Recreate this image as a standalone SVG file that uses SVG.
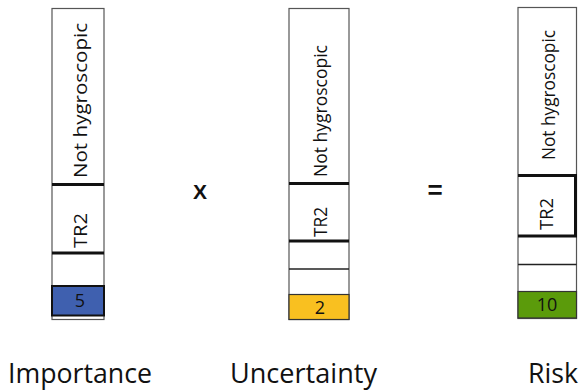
<svg xmlns="http://www.w3.org/2000/svg" width="581" height="392" viewBox="0 0 581 392">
<style>
.frame{fill:#fff;stroke:#555;stroke-width:1.2}
.thick{stroke:#111;stroke-width:3}
.thin{stroke:#222;stroke-width:1.5}
.vt{font-family:"Open Sans","Noto Sans",sans-serif;font-size:19px;fill:#111}
.num{font-family:"Open Sans","Noto Sans",sans-serif;font-size:18px;fill:#111;text-anchor:middle}
.lab{font-family:"Open Sans","Noto Sans",sans-serif;font-size:27px;fill:#111}
.op{font-family:"Liberation Sans",Arial,sans-serif;font-weight:bold;fill:#111;text-anchor:middle}
</style>
<g id="importance">
<rect class="frame" x="52" y="8.5" width="52" height="311"/>
<line class="thick" x1="52" y1="184.5" x2="104" y2="184.5"/>
<line class="thick" x1="52" y1="253" x2="104" y2="253"/>
<rect x="52" y="286" width="52" height="29.5" fill="#3F60AF" stroke="#111" stroke-width="2"/>
<text class="vt" transform="translate(87,178) rotate(-90)" textLength="155" lengthAdjust="spacingAndGlyphs">Not hygroscopic</text>
<text class="vt" transform="translate(87,248) rotate(-90)" textLength="35" lengthAdjust="spacingAndGlyphs">TR2</text>
<text class="num" x="80" y="307">5</text>
<text class="lab" x="8" y="383" textLength="144" lengthAdjust="spacingAndGlyphs">Importance</text>
</g>
<g id="uncertainty">
<rect class="frame" x="289" y="8.5" width="60" height="311"/>
<line class="thick" x1="289" y1="183.5" x2="349" y2="183.5"/>
<line class="thick" x1="289" y1="241" x2="349" y2="241"/>
<line class="thin" x1="289" y1="269" x2="349" y2="269"/>
<rect x="289" y="294.5" width="60" height="25" fill="#F9C020" stroke="#333" stroke-width="1.2"/>
<text class="vt" transform="translate(327,177) rotate(-90)" textLength="132" lengthAdjust="spacingAndGlyphs">Not hygroscopic</text>
<text class="vt" transform="translate(327,237) rotate(-90)" textLength="30" lengthAdjust="spacingAndGlyphs">TR2</text>
<text class="num" x="320" y="314">2</text>
<text class="lab" x="230" y="383" textLength="147" lengthAdjust="spacingAndGlyphs">Uncertainty</text>
</g>
<g id="risk">
<rect class="frame" x="518" y="7.5" width="58.5" height="311"/>
<path d="M518 175.5 H575.5 V236 H518" fill="none" stroke="#111" stroke-width="3"/>
<line class="thin" x1="518" y1="264.5" x2="576.5" y2="264.5"/>
<rect x="518" y="291.5" width="58.5" height="26.5" fill="#5B9B0B" stroke="#333" stroke-width="1.2"/>
<text class="vt" transform="translate(555,160) rotate(-90)" textLength="130" lengthAdjust="spacingAndGlyphs">Not hygroscopic</text>
<text class="vt" transform="translate(553,230) rotate(-90)" textLength="32" lengthAdjust="spacingAndGlyphs">TR2</text>
<text class="num" x="547" y="311">10</text>
<text class="lab" x="528" y="383" textLength="50" lengthAdjust="spacingAndGlyphs">Risk</text>
</g>
<g id="operators">
<text class="op" x="200" y="199" font-size="21">X</text>
<text class="op" x="435" y="199" font-size="26">=</text>
</g>
</svg>
